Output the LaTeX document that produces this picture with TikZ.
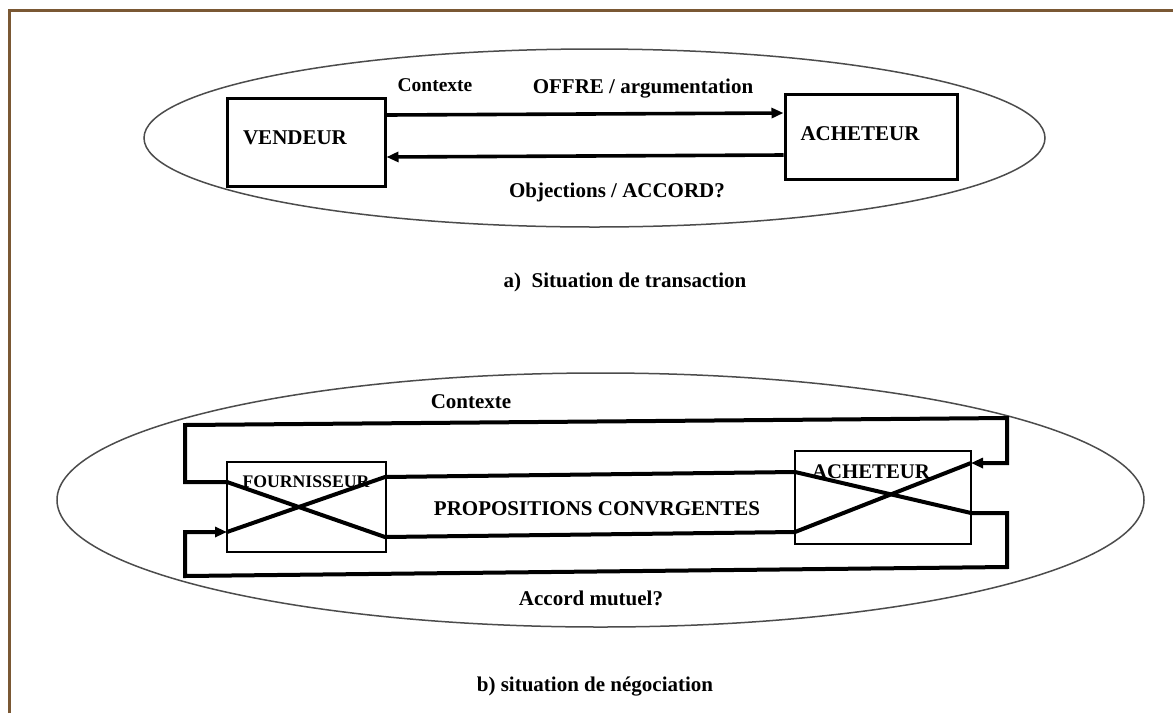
\documentclass[tikz,border=0pt]{standalone}
\usepackage{fontspec}
\setmainfont{Liberation Serif}
\usetikzlibrary{arrows.meta}
\definecolor{framebrown}{RGB}{122,88,52}
\begin{document}
\begin{tikzpicture}[x=1pt,y=-1pt,
  lbl/.style={font=\fontsize{21}{24}\selectfont\bfseries, inner sep=0pt, text height=14pt, text depth=0pt},
  lblsmall/.style={font=\fontsize{19.5}{22}\selectfont\bfseries, inner sep=0pt, text height=13pt, text depth=0pt},
  lblbox/.style={font=\fontsize{17.7}{20}\selectfont\bfseries, inner sep=0pt, text height=11.7pt, text depth=0pt},
  boxa/.style={draw, line width=3pt, inner sep=0pt},
  boxb/.style={draw, line width=2.4pt, inner sep=0pt},
  flow/.style={line width=3.6pt, -{Triangle[length=12pt,width=10pt]}},
  loopline/.style={line width=4pt, line join=miter, -{Triangle[length=12pt,width=10pt]}},
  oval/.style={draw=black!70, line width=1.5pt}]
\useasboundingbox (0,0) rectangle (1173,713);
\fill[white] (0,0) rectangle (1173,713);
\draw[framebrown, line width=3pt] (9.5,713) -- (9.5,10.5) -- (1173,10.5);

% ---------- a) transaction ----------
\draw[oval] (594.5,138) ellipse [x radius=450.5pt, y radius=89pt];
\node[boxa, minimum width=158pt, minimum height=88pt] (vend) at (306,142) {};
\node[lbl] (vendt) at (295,137) {VENDEUR};
\node[boxa, minimum width=172pt, minimum height=85pt] (ach) at (871,136.5) {};
\node[lbl] (acht) at (860,133) {ACHETEUR};
\draw[flow] ([yshift=27pt]vend.east) -- ([yshift=23.5pt]ach.west);
\draw[flow] ([yshift=-18.5pt]ach.west) -- ([yshift=-15pt]vend.east);
\node[lblsmall] (ctxa) at (435,85) {Contexte};
\node[lbl] (offre) at (643,86) {OFFRE / argumentation};
\node[lbl] (obj) at (617,190) {Objections / ACCORD?};
\node[lbl] (capa) at (625,280) {a)\ \ Situation de transaction};

% ---------- b) negociation ----------
\draw[oval] (600.5,500) ellipse [x radius=543.5pt, y radius=127pt];
\node[boxb, minimum width=159pt, minimum height=90pt] (four) at (306.5,507) {};
\node[lblbox] (fourt) at (306,482) {FOURNISSEUR};
\node[boxb, minimum width=176pt, minimum height=93pt] (achb) at (883,497.5) {};
\node[font=\fontsize{20.8}{23}\selectfont\bfseries, inner sep=0pt, text height=13.8pt, text depth=0pt] (achbt) at (871,472) {ACHETEUR};

\coordinate (bA1) at (971,463);
\coordinate (bA2) at (795,532);
\coordinate (bA3) at (385,537);
\coordinate (bA4) at (227,482);
\coordinate (bA5) at (185,482);
\coordinate (bA6) at (185,425);
\coordinate (bA7) at (1007,418);
\coordinate (bA8) at (1007,463);
\draw[loopline] (bA1) -- (bA2) -- (bA3) -- (bA4) -- (bA5) -- (bA6) -- (bA7) -- (bA8) -- (bA1);

\coordinate (bB1) at (227,532);
\coordinate (bB2) at (385,477);
\coordinate (bB3) at (795,472);
\coordinate (bB4) at (971,513);
\coordinate (bB5) at (1007,513);
\coordinate (bB6) at (1007,567);
\coordinate (bB7) at (185,576);
\coordinate (bB8) at (185,532);
\draw[loopline] (bB1) -- (bB2) -- (bB3) -- (bB4) -- (bB5) -- (bB6) -- (bB7) -- (bB8) -- (bB1);

\node[lbl] (ctxb) at (471,401) {Contexte};
\node[lbl] (prop) at (597,508) {PROPOSITIONS CONVRGENTES};
\node[lbl] (accord) at (591,598) {Accord mutuel?};
\node[lbl] (capb) at (595,684) {b) situation de négociation};
\end{tikzpicture}
\end{document}
